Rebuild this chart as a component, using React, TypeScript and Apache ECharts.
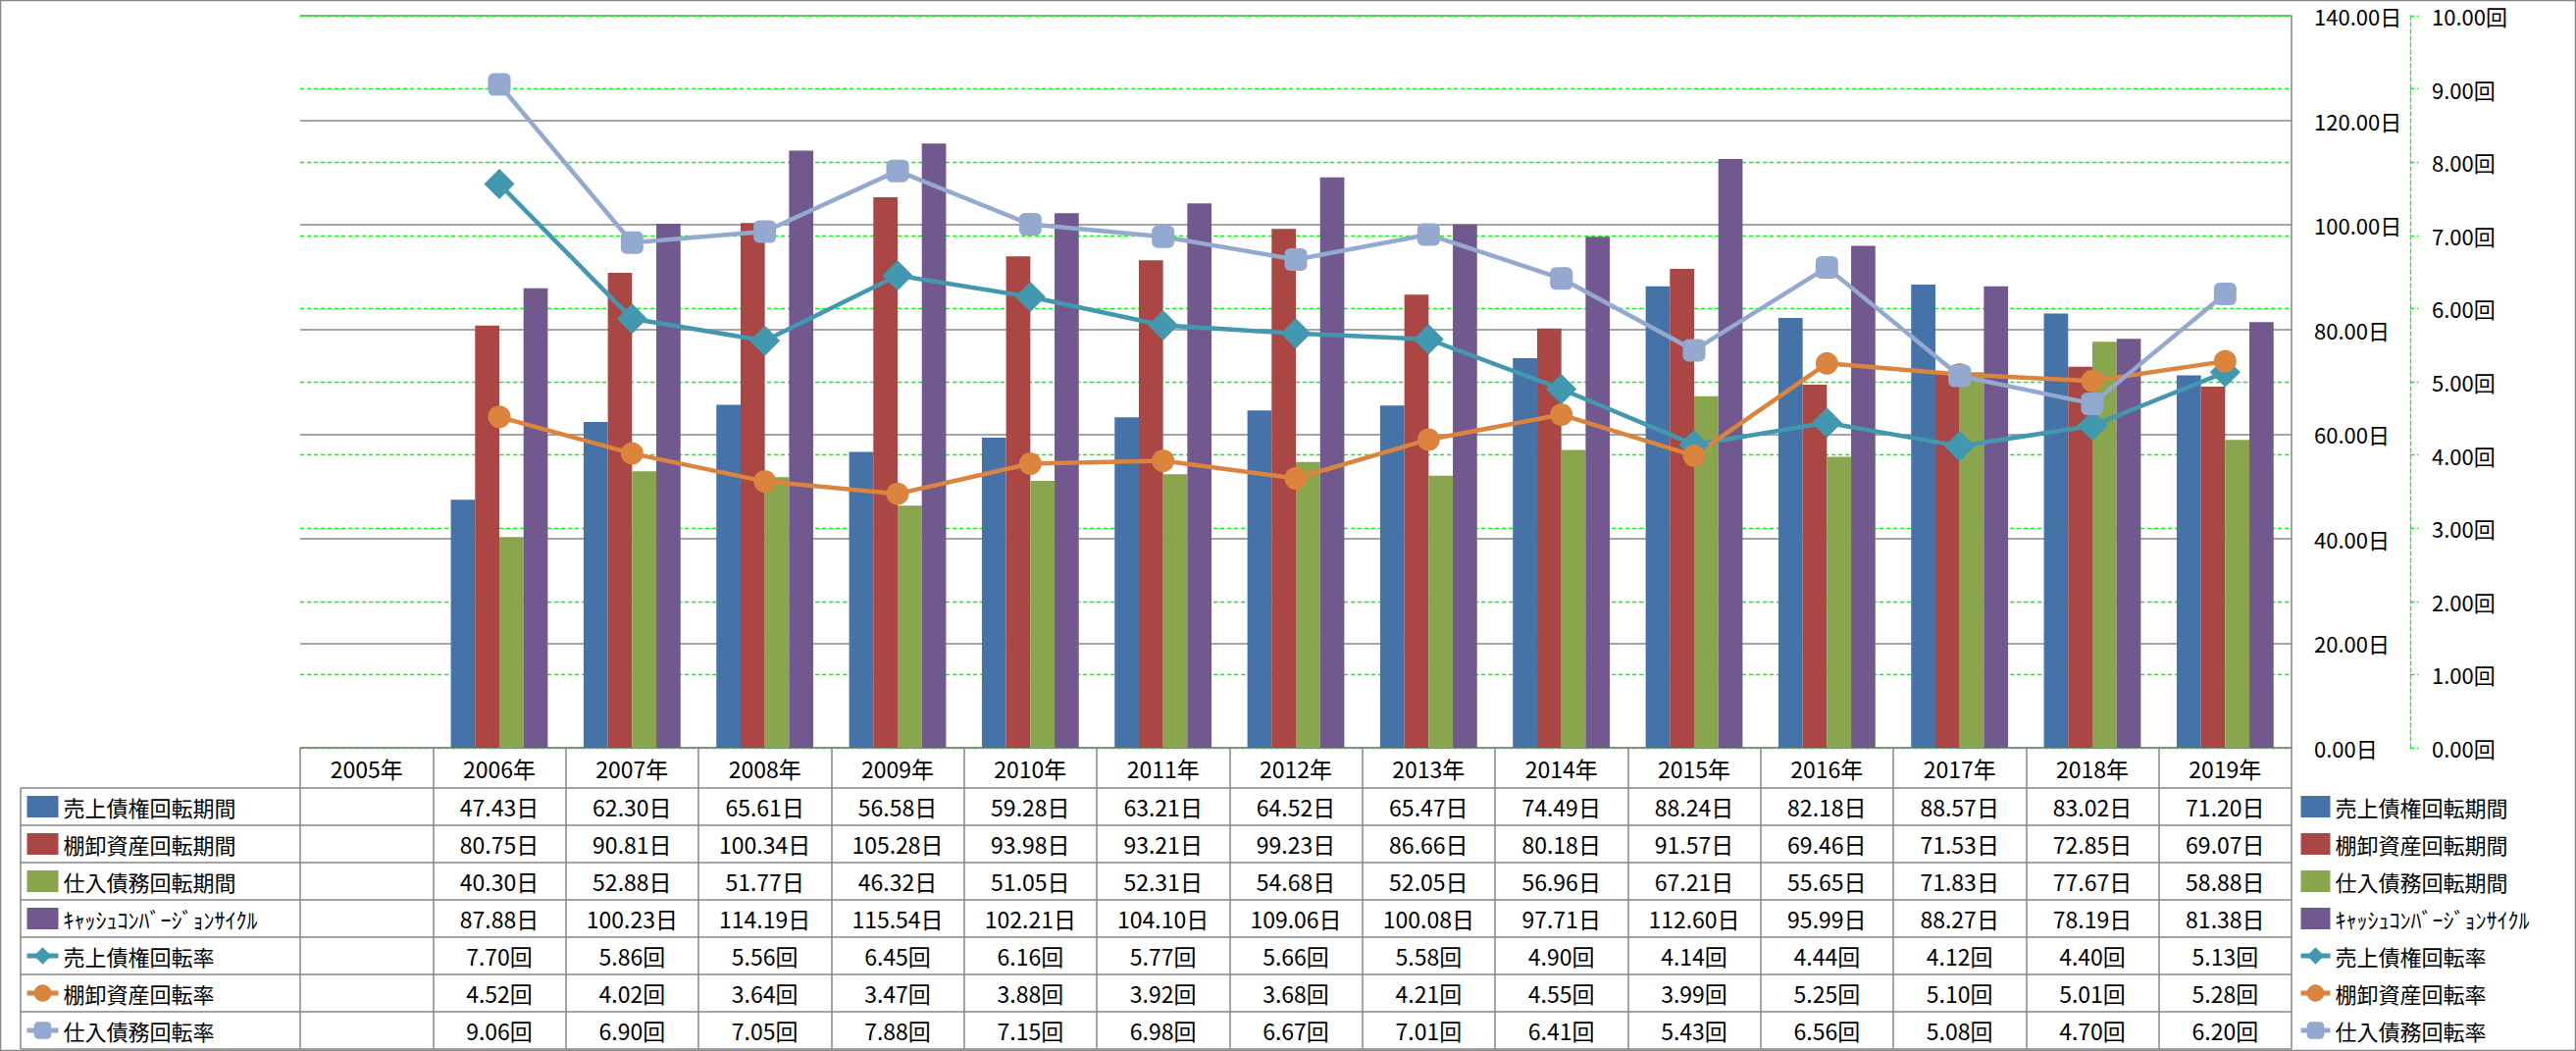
import React, { useEffect, useRef } from 'react';
import * as echarts from 'echarts';

// ---------- data ----------
const years = ['2005年', '2006年', '2007年', '2008年', '2009年', '2010年', '2011年', '2012年', '2013年', '2014年', '2015年', '2016年', '2017年', '2018年', '2019年'];

const receivablePeriod = [null, 47.43, 62.30, 65.61, 56.58, 59.28, 63.21, 64.52, 65.47, 74.49, 88.24, 82.18, 88.57, 83.02, 71.20];
const inventoryPeriod = [null, 80.75, 90.81, 100.34, 105.28, 93.98, 93.21, 99.23, 86.66, 80.18, 91.57, 69.46, 71.53, 72.85, 69.07];
const payablePeriod = [null, 40.30, 52.88, 51.77, 46.32, 51.05, 52.31, 54.68, 52.05, 56.96, 67.21, 55.65, 71.83, 77.67, 58.88];
const cashConversionCycle = [null, 87.88, 100.23, 114.19, 115.54, 102.21, 104.10, 109.06, 100.08, 97.71, 112.60, 95.99, 88.27, 78.19, 81.38];
const receivableTurnover = [null, 7.70, 5.86, 5.56, 6.45, 6.16, 5.77, 5.66, 5.58, 4.90, 4.14, 4.44, 4.12, 4.40, 5.13];
const inventoryTurnover = [null, 4.52, 4.02, 3.64, 3.47, 3.88, 3.92, 3.68, 4.21, 4.55, 3.99, 5.25, 5.10, 5.01, 5.28];
const payableTurnover = [null, 9.06, 6.90, 7.05, 7.88, 7.15, 6.98, 6.67, 7.01, 6.41, 5.43, 6.56, 5.08, 4.70, 6.20];

const seriesNames = ['売上債権回転期間', '棚卸資産回転期間', '仕入債務回転期間', 'ｷｬｯｼｭｺﾝﾊﾞｰｼﾞｮﾝｻｲｸﾙ', '売上債権回転率', '棚卸資産回転率', '仕入債務回転率'];
const seriesData = [receivablePeriod, inventoryPeriod, payablePeriod, cashConversionCycle, receivableTurnover, inventoryTurnover, payableTurnover];
const seriesUnits = ['日', '日', '日', '日', '回', '回', '回'];

const dayAxis = { min: 0, max: 140, interval: 20, unit: '日' };
const countAxis = { min: 0, max: 10, interval: 1, unit: '回' };

// ---------- styles ----------
const FONT = '"Noto Sans CJK JP", "Noto Sans", sans-serif';
const GREY = '#868686';
const GREEN = '#00ff00';
const COLORS = ['#4572a7', '#aa4643', '#89a54e', '#71588f', '#4198af', '#db843d', '#93a9cf'];
const SYMBOLS = ['diamond', 'circle', 'roundRect'];
const SYMBOL_SIZES = [31, 23, 23];

const W = 2626;
const H = 1071;
const PLOT_LEFT = 306;
const PLOT_RIGHT = 2336;
const PLOT_TOP = 16;
const PLOT_BOTTOM = 762;
const HEADER_H = 41;
const ROW_H = 38;
const TABLE_LEFT = 21;
const LEGEND_ITEM_H = 22;

export default function App() {
  const ref = useRef<HTMLDivElement>(null);

  useEffect(() => {
    const chart = echarts.init(ref.current as HTMLDivElement, null, { renderer: 'svg' });
    const rowsTop = PLOT_BOTTOM + HEADER_H;
    const tableBottom = rowsTop + ROW_H * seriesNames.length;

    const legendData = seriesNames.map((name, i) =>
      i < 4 ? { name, icon: 'rect' } : { name, lineStyle: { width: 5 } }
    );

    const legendBase = {
      orient: 'vertical',
      top: rowsTop + (ROW_H - LEGEND_ITEM_H) / 2,
      bottom: 0,
      padding: 0,
      itemGap: ROW_H - LEGEND_ITEM_H,
      itemHeight: LEGEND_ITEM_H,
      selectedMode: false,
      data: legendData,
      textStyle: { fontFamily: FONT, fontSize: 22, color: '#000', lineHeight: LEGEND_ITEM_H },
    };

    const series: any[] = [];
    for (let i = 0; i < 4; i++) {
      series.push({
        name: seriesNames[i],
        type: 'bar',
        data: seriesData[i],
        yAxisIndex: 0,
        barGap: '0%',
        barCategoryGap: '27%',
        itemStyle: { color: COLORS[i] },
      });
    }
    for (let j = 0; j < 3; j++) {
      const i = j + 4;
      series.push({
        name: seriesNames[i],
        type: 'line',
        data: seriesData[i],
        yAxisIndex: 1,
        symbol: SYMBOLS[j],
        symbolSize: SYMBOL_SIZES[j],
        showSymbol: true,
        z: 5,
        lineStyle: { color: COLORS[i], width: 4.5 },
        itemStyle: { color: COLORS[i] },
      });
    }

    const option: any = {
      animation: false,
      backgroundColor: '#fff',
      textStyle: { fontFamily: FONT },
      grid: {
        left: PLOT_LEFT,
        right: W - PLOT_RIGHT,
        top: PLOT_TOP,
        bottom: H - PLOT_BOTTOM,
        containLabel: false,
      },
      legend: [
        { ...legendBase, left: PLOT_RIGHT + 7, itemWidth: 30 },
        { ...legendBase, left: TABLE_LEFT + 4, itemWidth: 32 },
      ],
      xAxis: {
        type: 'category',
        data: years,
        position: 'bottom',
        boundaryGap: true,
        axisLine: { show: true, lineStyle: { color: GREY, width: 1.5 } },
        axisTick: {
          show: true,
          interval: 0,
          length: tableBottom - PLOT_BOTTOM,
          lineStyle: { color: GREY, width: 1.5 },
        },
        axisLabel: {
          interval: 0,
          margin: 9,
          fontFamily: FONT,
          fontSize: 23,
          lineHeight: 23,
          color: '#000',
        },
        splitLine: { show: false },
      },
      yAxis: [
        {
          type: 'value',
          position: 'right',
          min: dayAxis.min,
          max: dayAxis.max,
          interval: dayAxis.interval,
          axisLine: { show: true, lineStyle: { color: GREY, width: 1.5 } },
          axisTick: { show: false },
          axisLabel: {
            margin: 23,
            fontFamily: FONT,
            fontSize: 22,
            color: '#000',
            formatter: (v: number) => v.toFixed(2) + dayAxis.unit,
          },
          splitLine: { show: true, lineStyle: { color: GREY, width: 1.5 } },
        },
        {
          type: 'value',
          position: 'right',
          offset: 121,
          min: countAxis.min,
          max: countAxis.max,
          interval: countAxis.interval,
          axisLine: { show: true, lineStyle: { color: GREEN, width: 1.3, type: [4, 3] } },
          axisTick: { show: true, length: 8, lineStyle: { color: GREEN, width: 1.3, type: [4, 3] } },
          axisLabel: {
            margin: 22,
            fontFamily: FONT,
            fontSize: 22,
            color: '#000',
            formatter: (v: number) => v.toFixed(2) + countAxis.unit,
          },
          splitLine: { show: true, lineStyle: { color: GREEN, width: 1.3, type: [4, 3] } },
        },
      ],
      series,
    };

    chart.setOption(option);

    // ---------- data table (cells positioned through the category axis) ----------
    const graphics: any[] = [];
    graphics.push({
      type: 'rect',
      silent: true,
      shape: { x: 0.5, y: 0.5, width: W - 1, height: H - 1 },
      style: { fill: 'none', stroke: GREY, lineWidth: 1.5 },
    });
    graphics.push({
      type: 'line',
      silent: true,
      shape: { x1: TABLE_LEFT, y1: rowsTop, x2: TABLE_LEFT, y2: tableBottom },
      style: { stroke: GREY, lineWidth: 1.5 },
    });
    for (let r = 0; r <= seriesNames.length; r++) {
      const y = rowsTop + r * ROW_H;
      graphics.push({
        type: 'line',
        silent: true,
        shape: { x1: TABLE_LEFT, y1: y, x2: PLOT_RIGHT, y2: y },
        style: { stroke: GREY, lineWidth: 1.5 },
      });
    }
    for (let r = 0; r < seriesNames.length; r++) {
      const yc = rowsTop + r * ROW_H + ROW_H / 2;
      const data = seriesData[r];
      for (let c = 0; c < years.length; c++) {
        const v = data[c];
        if (v === null || v === undefined) continue;
        const x = chart.convertToPixel({ xAxisIndex: 0 }, years[c]) as number;
        graphics.push({
          type: 'text',
          silent: true,
          x,
          y: yc,
          style: {
            text: (v as number).toFixed(2) + seriesUnits[r],
            fontFamily: FONT,
            fontSize: 23,
            fill: '#000',
            align: 'center',
            verticalAlign: 'middle',
          },
        });
      }
    }
    chart.setOption({ graphic: graphics });

    return () => {
      chart.dispose();
    };
  }, []);

  return (
    <div
      ref={ref}
      style={{ position: 'fixed', left: 0, top: 0, width: W, height: H, background: '#fff' }}
    />
  );
}
